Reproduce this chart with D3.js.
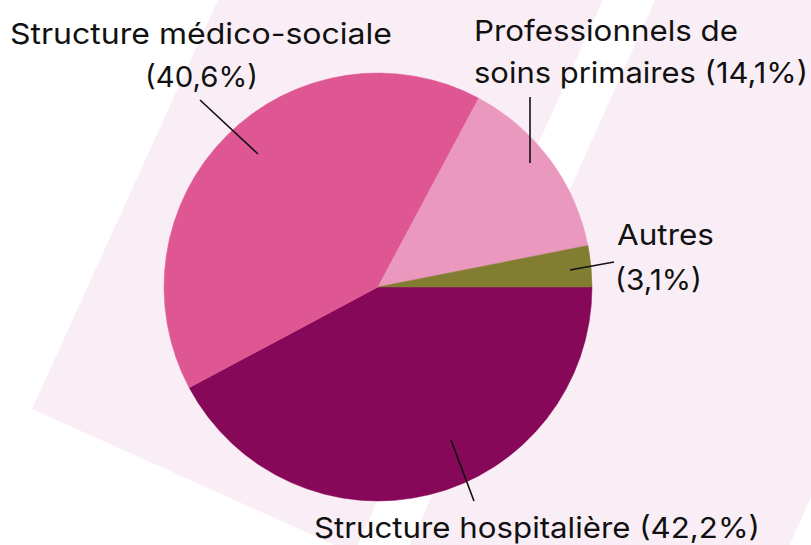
<!DOCTYPE html>
<html>
<head>
<meta charset="utf-8">
<script src="https://cdn.jsdelivr.net/npm/d3@7"></script>
<style>
  html, body { margin: 0; padding: 0; background: #ffffff; }
  svg { display: block; }
  text { font-family: Inter, "Noto Sans", sans-serif; font-weight: 400; fill: #111; }
</style>
</head>
<body>
<svg id="chart" width="811" height="545"></svg>
<script>
// ---- data ----
const categories = ["Structure hospitalière", "Structure médico-sociale", "Professionnels de soins primaires", "Autres"];
const values = [42.2, 40.6, 14.1, 3.1];
const valueLabels = ["42,2%", "40,6%", "14,1%", "3,1%"];
const colors = ["#870758", "#DE5792", "#EA98BD", "#817D31"];

// ---- layout (annotation placement) ----
const labelLines = [
  [{ t: "Structure hospitalière (42,2%)", x: 314, y: 538, w: 446 }],
  [{ t: "Structure médico-sociale", x: 10, y: 44, w: 382 }, { t: "(40,6%)", x: 145, y: 87, w: 113 }],
  [{ t: "Professionnels de", x: 474, y: 41, w: 264 }, { t: "soins primaires (14,1%)", x: 474, y: 83, w: 334 }],
  [{ t: "Autres", x: 617, y: 245, w: 97 }, { t: "(3,1%)", x: 615, y: 290, w: 87 }]
];
const leaders = [
  [[451, 440], [474, 501]],
  [[258, 154], [200, 100]],
  [[530, 163], [530, 97]],
  [[570, 270], [614, 262]]
];

const svg = d3.select("#chart");
const W = 811, H = 545;

// background decorative band
const bg = svg.append("g");
const slope = 0.45;
bg.append("polygon")
  .attr("points", [[218, 0], [1035, 0], [713, 715], [32, 409]].map(p => p.join(",")).join(" "))
  .attr("fill", "#FAEEF6");
bg.append("polygon")
  .attr("points", [[603, 0], [655, 0], [655 - slope * 700, 700], [603 - slope * 700, 700]].map(p => p.join(",")).join(" "))
  .attr("fill", "#ffffff");

// pie
const cx = 378, cy = 287, r = 214;
const data = categories.map((c, i) => ({ cat: c, value: values[i], color: colors[i], label: valueLabels[i] }));
const pie = d3.pie().value(d => d.value).sort(null)
  .startAngle(Math.PI / 2).endAngle(Math.PI / 2 + 2 * Math.PI);
const arc = d3.arc().innerRadius(0).outerRadius(r);

const g = svg.append("g").attr("transform", `translate(${cx},${cy})`);
g.selectAll("path").data(pie(data)).join("path")
  .attr("d", arc)
  .attr("fill", d => d.data.color)
  .attr("stroke", d => d.data.color)
  .attr("stroke-width", 0.5);

// leader lines
svg.append("g").selectAll("line").data(leaders).join("line")
  .attr("x1", d => d[0][0]).attr("y1", d => d[0][1])
  .attr("x2", d => d[1][0]).attr("y2", d => d[1][1])
  .attr("stroke", "#111").attr("stroke-width", 1.6);

// labels
const lg = svg.append("g");
labelLines.forEach(lines => {
  lines.forEach(l => {
    lg.append("text")
      .attr("x", l.x).attr("y", l.y)
      .attr("font-size", 29)
      .attr("textLength", l.w)
      .attr("lengthAdjust", "spacingAndGlyphs")
      .text(l.t);
  });
});
</script>
</body>
</html>
